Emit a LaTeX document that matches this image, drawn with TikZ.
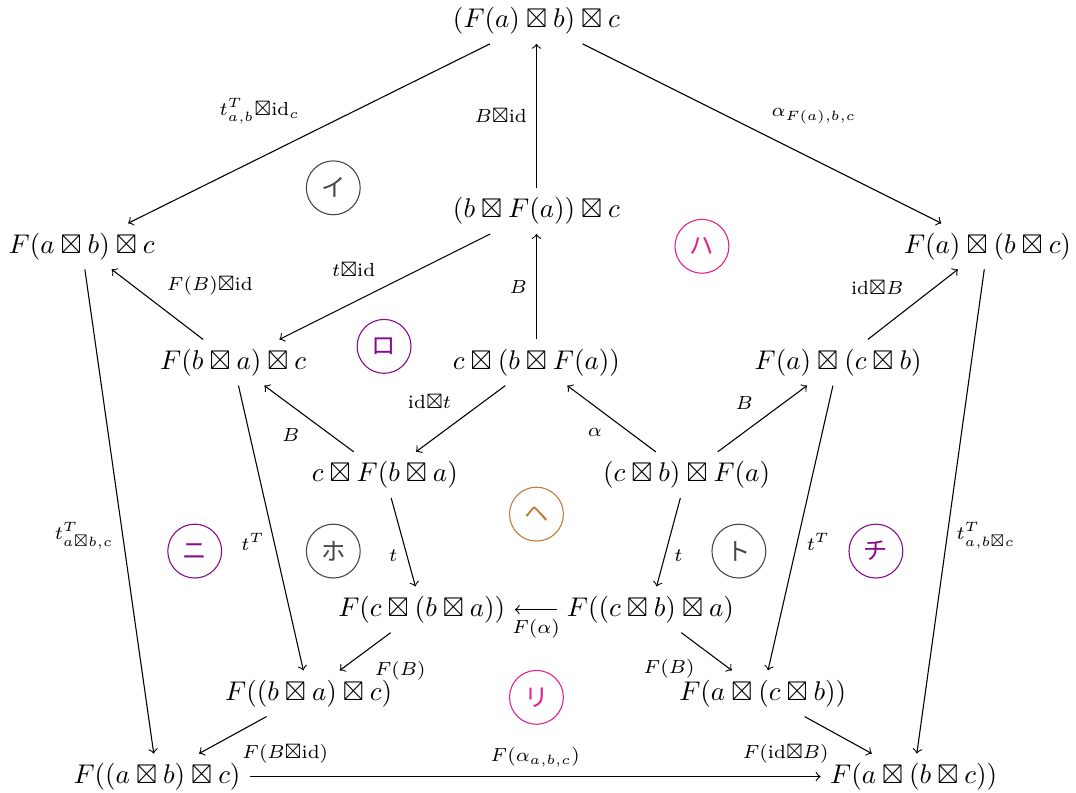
\documentclass[tikz,border=0pt]{standalone}
\usepackage{xcolor}
\usepackage{amsmath}
\usepackage{amssymb}
\usepackage{fontspec}
\newfontfamily\cjk{Noto Sans CJK JP}
\usepackage{tikz}
\usetikzlibrary{arrows,positioning}

\definecolor{kgray}{RGB}{70,70,70}
\definecolor{kviolet}{RGB}{135,10,140}
\definecolor{kpink}{RGB}{228,30,140}
\definecolor{kbrown}{RGB}{192,122,58}

\tikzset{
  kana/.style={draw=#1, text=#1, circle, minimum size=0.7cm, inner sep=0pt, font=\cjk\small},
  lbl/.style={execute at begin node=$\scriptstyle, execute at end node=$}
}

\begin{document}
\begin{tikzpicture}
        \useasboundingbox (0,0) rectangle (13.98,-10.30);

        % outer pentagon
        \node (top)  at (6.97,-0.27) {$(F(a)\boxtimes b)\boxtimes c$};
        \node (FabL) at (1.06,-3.20) {$F(a\boxtimes b)\boxtimes c$};
        \node (FaR)  at (12.83,-3.20) {$F(a)\boxtimes(b\boxtimes c)$};
        \node (Fabc) at (2.04,-10.09) {$F((a\boxtimes b)\boxtimes c)$};
        \node (Fa_bc) at (11.87,-10.09) {$F(a\boxtimes(b\boxtimes c))$};

        % inner part
        \node (bFa)  at (6.97,-2.74) {$(b\boxtimes F(a))\boxtimes c$};
        \node (FbaL) at (3.03,-4.71) {$F(b\boxtimes a)\boxtimes c$};
        \node (cbFa) at (6.97,-4.71) {$c\boxtimes(b\boxtimes F(a))$};
        \node (FcbR) at (10.89,-4.71) {$F(a)\boxtimes(c\boxtimes b)$};
        \node (cFba) at (5.00,-6.17) {$c\boxtimes F(b\boxtimes a)$};
        \node (cbF)  at (8.92,-6.17) {$(c\boxtimes b)\boxtimes F(a)$};
        \node (Fcba) at (5.48,-7.92) {$F(c\boxtimes(b\boxtimes a))$};
        \node (Fcb)  at (8.45,-7.92) {$F((c\boxtimes b)\boxtimes a)$};
        \node (Fbac) at (4.01,-9.01) {$F((b\boxtimes a)\boxtimes c)$};
        \node (Facb) at (9.91,-9.01) {$F(a\boxtimes(c\boxtimes b))$};

        % regions
        \node[kana=kgray]   (cI)   at (4.33,-2.44) {イ};
        \node[kana=kviolet] (cRo)  at (4.99,-4.50) {ロ};
        \node[kana=kpink]   (cHa)  at (9.12,-3.20) {ハ};
        \node[kana=kviolet] (cNi)  at (2.53,-7.16) {ニ};
        \node[kana=kgray]   (cHo)  at (4.33,-7.16) {ホ};
        \node[kana=kbrown]  (cHe)  at (6.97,-6.68) {ヘ};
        \node[kana=kgray]   (cTo)  at (9.60,-7.16) {ト};
        \node[kana=kviolet] (cChi) at (11.38,-7.16) {チ};
        \node[kana=kpink]   (cRi)  at (6.97,-9.06) {リ};

        \draw[->] (top) -- node[lbl, above left]{t^T_{a,b}\boxtimes\mathrm{id}_c} (FabL);
        \draw[->] (top) -- node[lbl, above right]{\alpha_{F(a),b,c}} (FaR);
        \draw[->] (bFa) -- node[lbl, left]{B\boxtimes\mathrm{id}} (top);
        \draw[->] (bFa) -- node[lbl, above left]{t\boxtimes\mathrm{id}} (FbaL);
        \draw[->] (cbFa) -- node[lbl, left]{B} (bFa);
        \draw[->] (FbaL) -- node[lbl, above right]{F(B)\boxtimes\mathrm{id}} (FabL);
        \draw[->] (FcbR) -- node[lbl, above left]{\mathrm{id}\boxtimes B} (FaR);

        \draw[->] (cFba) -- node[lbl, below left]{B} (FbaL);
        \draw[->] (cbFa) -- node[lbl, above left]{\mathrm{id}\boxtimes t} (cFba);
        \draw[->] (cbF) -- node[lbl, below left]{\alpha} (cbFa);
        \draw[->] (cbF) -- node[lbl, above left]{B} (FcbR);

        \draw[->] (cFba) -- node[lbl, pos=0.65, left]{t} (Fcba);
        \draw[->] (cbF) -- node[lbl, pos=0.65, right]{t} (Fcb);
        \draw[->] (Fcb) -- node[lbl, below]{F(\alpha)} (Fcba);
        \draw[->] (Fcba) -- node[lbl, below right]{F(B)} (Fbac);
        \draw[->] (Fcb) -- node[lbl, pos=0.45, below left]{F(B)} (Facb);

        \draw[->] (FbaL) -- node[lbl, pos=0.55, left]{t^T} (Fbac);
        \draw[->] (FcbR) -- node[lbl, pos=0.55, right]{t^T} (Facb);
        \draw[->] (FabL) -- node[lbl, pos=0.55, left]{t^T_{a\boxtimes b,c}} (Fabc);
        \draw[->] (FaR) -- node[lbl, pos=0.55, right]{t^T_{a,b\boxtimes c}} (Fa_bc);

        \draw[->] (Fbac) -- node[lbl, below right]{F(B\boxtimes\mathrm{id})} (Fabc);
        \draw[->] (Facb) -- node[lbl, below left]{F(\mathrm{id}\boxtimes B)} (Fa_bc);
        \draw[->] (Fabc) -- node[lbl, above]{F(\alpha_{a,b,c})} (Fa_bc);
    \end{tikzpicture}
\end{document}
